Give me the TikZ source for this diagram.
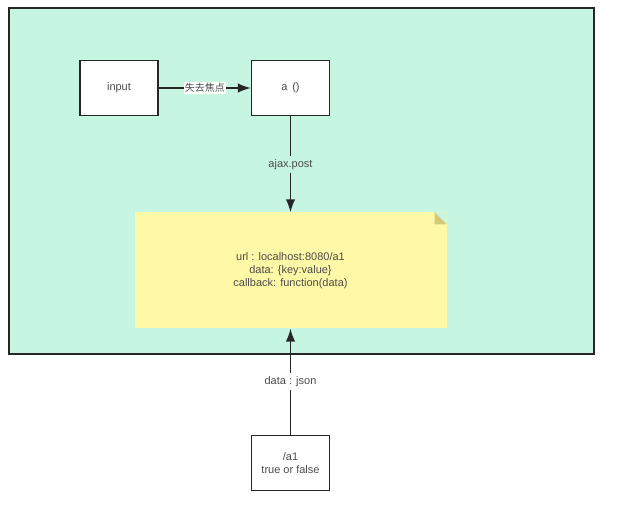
\documentclass[tikz,border=0pt]{standalone}
\usepackage{fontspec}
\setmainfont{Liberation Sans}
\newfontfamily\cjk{Noto Sans CJK SC}
\usetikzlibrary{arrows.meta, positioning}
\definecolor{mint}{RGB}{198,245,226}
\definecolor{noteyellow}{RGB}{255,248,166}
\definecolor{fold}{RGB}{214,201,122}

\begin{document}
\begin{tikzpicture}[x=1pt, y=-1pt, node distance=92pt,
  font=\fontsize{11}{13}\selectfont, text=black!70,
  box/.style={rectangle, draw=black!85, fill=white, line width=1.5pt, minimum width=78pt, minimum height=55pt, align=center},
  note/.style={rectangle, fill=noteyellow, minimum width=312pt, minimum height=116pt, align=center},
  arrow/.style={draw=black!85, -{Latex[length=13pt,width=9.5pt]}, line width=1.5pt}]

  \useasboundingbox (0,0) rectangle (622,515);
  \draw [line width=1.5pt, draw=black!85, fill=mint] (9,8) rectangle (594,354);

  \node [box] (input) at (119,88) {input};
  \node [box, right=of input] (func) {a \,()};
  \node [note, below=96pt of func] (ajax) {url : localhost:8080/a1\\data: \{key:value\}\\callback: function(data)};
  \node [box, below=106pt of ajax] (server) {/a1\\true or false};

  % folded corner of the note
  \fill [mint] ([xshift=-12pt]ajax.north east) -- (ajax.north east) -- ([yshift=-12pt]ajax.north east) -- cycle;
  \fill [fold] ([xshift=-12pt]ajax.north east) -- ([xshift=-12pt,yshift=-12pt]ajax.north east) -- ([yshift=-12pt]ajax.north east) -- cycle;

  \draw [arrow] (input) -- node[fill=white, inner sep=1pt] {\cjk\fontsize{10}{12}\selectfont 失去焦点} (func);
  \draw [arrow] (func) -- node[fill=mint] {ajax.post} (ajax);
  \draw [arrow] (server) -- node[fill=white] {data : json} (ajax);
\end{tikzpicture}
\end{document}
